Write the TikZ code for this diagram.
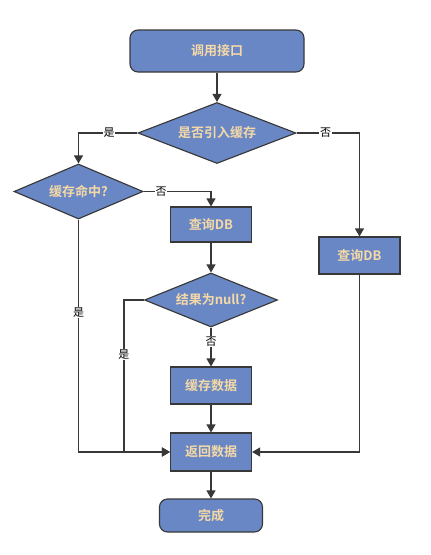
\documentclass[tikz,border=0pt]{standalone}
\usepackage{fontspec}
\setmainfont{Noto Sans CJK SC}[BoldFont={Noto Sans CJK SC Bold}]
\usetikzlibrary{
	positioning,
	shapes,
	arrows.meta
}
\definecolor{nfill}{HTML}{6A87C5}
\definecolor{ntext}{HTML}{F4D9A6}
\colorlet{mc}{black!78}
\tikzset{
	every picture/.style={
		line width=.4mm,
		draw=mc,
	},
}
\tikzstyle{box} = [
	rectangle,
	draw=mc,
	fill=nfill,
	text=ntext,
	font=\bfseries\fontsize{13}{15}\selectfont,
	inner sep=0mm,
	minimum width=81pt,
	minimum height=37pt
]
\tikzstyle{term} = [box, rounded corners=8pt]
\tikzstyle{decide} = [box, diamond, aspect=2.4]
\tikzstyle{arr} = [-{Triangle[length=8pt, width=9pt]}, draw=mc]
\tikzstyle{lbl} = [fill=white, inner sep=.3mm, text=black, font=\fontsize{11}{13}\selectfont]

\begin{document}
\begin{tikzpicture}[x=1pt, y=-1pt]
	\path[use as bounding box] (0, 0) rectangle (431, 555);

	\node[term, minimum width=174pt, minimum height=42pt] (call) at (217, 51) {调用接口};
	\node[decide, minimum width=158pt, minimum height=61pt] (usecache) at (217, 133) {是否引入缓存};
	\node[decide, minimum width=129pt, minimum height=55pt] (hit) at (78.5, 191.5) {缓存命中?};
	\node[box, minimum height=35pt] (querya) at (211, 224.5) {查询DB};
	\node[box] (queryb) at (359.5, 255.5) {查询DB};
	\node[decide, minimum width=133pt, minimum height=54pt] (isnull) at (211, 300) {结果为null?};
	\node[box] (save) at (211, 385.5) {缓存数据};
	\node[box, minimum height=38pt] (ret) at (211, 452) {返回数据};
	\node[term, minimum width=103pt, minimum height=33pt] (done) at (211, 515.5) {完成};

	\draw[arr] (call) -- (usecache);
	\draw[arr] (usecache.west) -| node[lbl, pos=.24] {是} (hit.north);
	\draw[arr] (usecache.east) -| node[lbl, pos=.23] {否} (queryb.north);
	\draw[arr] (hit.east) -| node[lbl, pos=.13] {否} (querya.north);
	\draw[arr] (querya) -- (isnull);
	\draw[arr] (isnull) -- node[lbl, pos=.35] {否} (save);
	\draw[arr] (save) -- (ret);
	\draw[arr] (hit.south) |- node[lbl, pos=.2] {是} (ret.west);
	\draw[arr] (isnull.west) -- ++(-20, 0) |- node[lbl, pos=.18] {是} (ret.west);
	\draw[arr] (queryb.south) |- (ret.east);
	\draw[arr] (ret) -- (done);
\end{tikzpicture}
\end{document}
